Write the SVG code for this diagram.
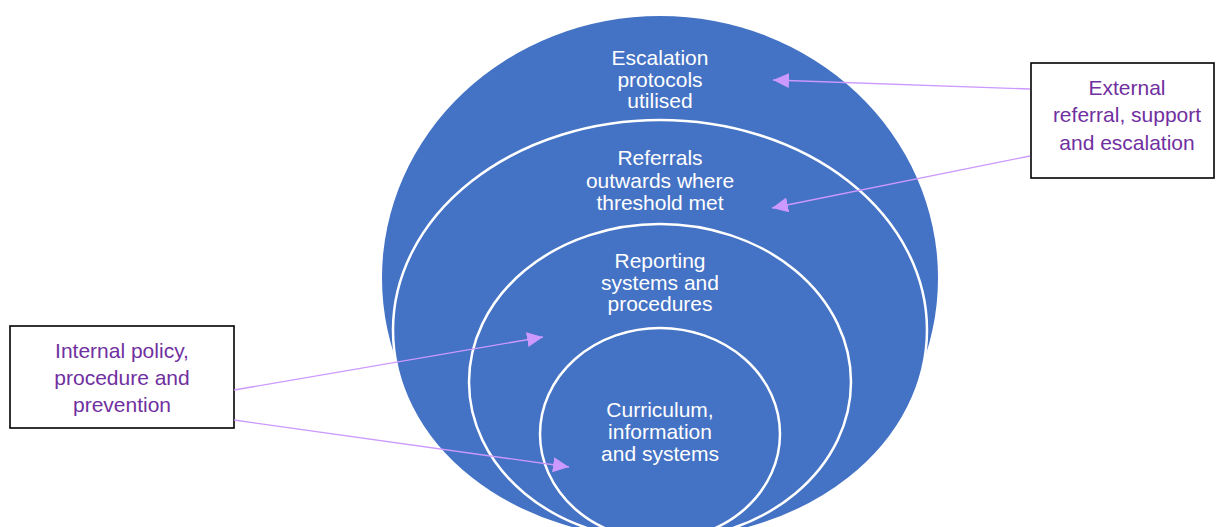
<svg xmlns="http://www.w3.org/2000/svg" width="1216" height="527" viewBox="0 0 1216 527">
<style>
.ring{fill:#4472C4;stroke:#FFFFFF;stroke-width:2.5}
.wt{font-family:"Liberation Sans",Arial,sans-serif;font-size:21px;fill:#FFFFFF;text-anchor:middle}
.pt{font-family:"Liberation Sans",Arial,sans-serif;font-size:21px;fill:#7030A0;text-anchor:middle}
.box{fill:#FFFFFF;stroke:#000000;stroke-width:1.6}
.conn{stroke:#CC99FF;stroke-width:1.3;fill:none;marker-end:url(#arr)}
</style>
<defs>
<marker id="arr" markerUnits="userSpaceOnUse" markerWidth="17" markerHeight="16" refX="16" refY="7.5" orient="auto">
<path d="M0,0 L16,7.5 L0,15 Z" fill="#CC99FF"/>
</marker>
</defs>
<rect width="1216" height="527" fill="#FFFFFF"/>
<g id="ring-escalation">
<ellipse cx="660" cy="278" rx="278" ry="262" fill="#4472C4"/>
<text class="wt" x="660" y="65">Escalation</text>
<text class="wt" x="660" y="86.5">protocols</text>
<text class="wt" x="660" y="108">utilised</text>
</g>
<g id="ring-referrals">
<ellipse class="ring" cx="660" cy="330" rx="267" ry="210"/>
<text class="wt" x="660" y="165">Referrals</text>
<text class="wt" x="660" y="188">outwards where</text>
<text class="wt" x="660" y="210">threshold met</text>
</g>
<g id="ring-reporting">
<ellipse class="ring" cx="660" cy="382" rx="191" ry="158"/>
<text class="wt" x="660" y="268">Reporting</text>
<text class="wt" x="660" y="289.5">systems and</text>
<text class="wt" x="660" y="311">procedures</text>
</g>
<g id="ring-curriculum">
<ellipse class="ring" cx="660" cy="434" rx="120" ry="106"/>
<text class="wt" x="660" y="417">Curriculum,</text>
<text class="wt" x="660" y="439">information</text>
<text class="wt" x="660" y="461">and systems</text>
</g>
<g id="box-external">
<rect class="box" x="1031" y="63" width="183" height="115"/>
<text class="pt" x="1127" y="95">External</text>
<text class="pt" x="1127" y="122">referral, support</text>
<text class="pt" x="1127" y="150">and escalation</text>
</g>
<g id="box-internal">
<rect class="box" x="10" y="326" width="224" height="102"/>
<text class="pt" x="122" y="358">Internal policy,</text>
<text class="pt" x="122" y="385">procedure and</text>
<text class="pt" x="122" y="412">prevention</text>
</g>
<g id="connectors">
<line class="conn" x1="1030" y1="89" x2="773" y2="80"/>
<line class="conn" x1="1030" y1="156" x2="772" y2="208"/>
<line class="conn" x1="234" y1="390" x2="543" y2="337"/>
<line class="conn" x1="234" y1="420" x2="569" y2="467"/>
</g>
</svg>
